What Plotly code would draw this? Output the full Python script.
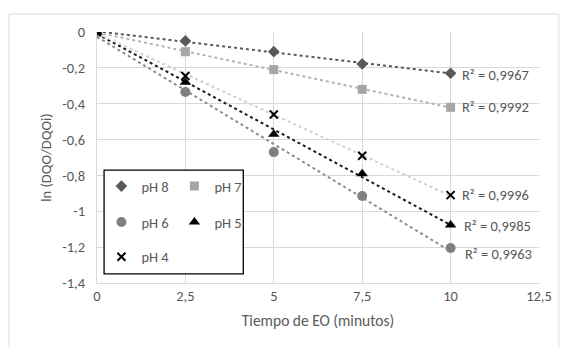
import numpy as np
import plotly.graph_objects as go

tiempo = [0, 2.5, 5, 7.5, 10]
ph8 = [0, -0.05, -0.11, -0.178, -0.23]
ph7 = [0, -0.11, -0.21, -0.32, -0.42]
ph6 = [0, -0.335, -0.67, -0.915, -1.205]
ph5 = [0, -0.28, -0.57, -0.79, -1.077]
ph4 = [0, -0.245, -0.46, -0.69, -0.91]
r2_labels = ["R² = 0,9967", "R² = 0,9992", "R² = 0,9963", "R² = 0,9985", "R² = 0,9996"]

y_ticks = [0, -0.2, -0.4, -0.6, -0.8, -1, -1.2, -1.4]
y_ticktext = ["0", "-0,2", "-0,4", "-0,6", "-0,8", "-1", "-1,2", "-1,4"]
x_ticks = [0, 2.5, 5, 7.5, 10, 12.5]
x_ticktext = ["0", "2,5", "5", "7,5", "10", "12,5"]

FONT = "Calibri, Carlito, Lato, sans-serif"
TXT = "#595959"
FS = 14.5

series = [
    dict(name="pH 8", y=ph8, symbol="diamond", size=9, mcolor="#595959", lcolor="#595959", legend="legend", r2=r2_labels[0], dy=-2, dx=0),
    dict(name="pH 7", y=ph7, symbol="square", size=9, mcolor="#a6a6a6", lcolor="#b3b3b3", legend="legend", r2=r2_labels[1], dy=0, dx=0),
    dict(name="pH 6", y=ph6, symbol="circle", size=10, mcolor="#808080", lcolor="#8c8c8c", legend="legend2", r2=r2_labels[2], dy=-6, dx=3),
    dict(name="pH 5", y=ph5, symbol="triangle-up", size=10, mcolor="#000000", lcolor="#1a1a1a", legend="legend2", r2=r2_labels[3], dy=-1, dx=2),
    dict(name="pH 4", y=ph4, symbol="x-thin", size=8, mcolor="#000000", lcolor="#d0d0d0", legend="legend3", r2=r2_labels[4], dy=0, dx=0),
]

fig = go.Figure()

# trendlines (linear least squares fit over the data range)
for s in series:
    m, b = np.polyfit(tiempo, s["y"], 1)
    xs = [tiempo[0], tiempo[-1]]
    fig.add_trace(go.Scatter(x=xs, y=[m * x + b for x in xs], mode="lines",
                             line=dict(color=s["lcolor"], width=2, dash="dot"),
                             showlegend=False, hoverinfo="skip"))

for s in series:
    marker = dict(symbol=s["symbol"], size=s["size"], color=s["mcolor"])
    if s["symbol"] == "x-thin":
        marker["line"] = dict(color=s["mcolor"], width=2)
    fig.add_trace(go.Scatter(x=tiempo, y=s["y"], mode="markers", name=s["name"],
                             marker=marker, legend=s["legend"]))

for s in series:
    fig.add_annotation(x=tiempo[-1], y=s["y"][-1], text=s["r2"], showarrow=False,
                       xanchor="left", yanchor="middle", xshift=9 + s["dx"], yshift=s["dy"],
                       font=dict(family=FONT, size=FS, color=TXT))

# legend box
fig.add_shape(type="rect", xref="paper", yref="paper", x0=0.016, x1=0.331, y0=0.036, y1=0.450,
              line=dict(color="black", width=1.3), fillcolor="white", layer="above")
# chart outer border
fig.add_shape(type="rect", xref="paper", yref="paper", x0=-0.199, x1=1.045, y0=-0.26, y1=1.072,
              line=dict(color="#d9d9d9", width=1), layer="below")

leg_common = dict(orientation="h", xanchor="left", yanchor="middle", bgcolor="rgba(0,0,0,0)",
                  entrywidth=28, entrywidthmode="pixels", font=dict(family=FONT, size=FS, color=TXT),
                  itemclick=False, itemdoubleclick=False)

fig.update_layout(
    width=564, height=347,
    margin=dict(l=97, r=17, t=32, b=64),
    paper_bgcolor="white", plot_bgcolor="white",
    font=dict(family=FONT, size=FS, color=TXT),
    legend=dict(x=0.01, y=0.386, **leg_common),
    legend2=dict(x=0.01, y=0.243, **leg_common),
    legend3=dict(x=0.01, y=0.104, **leg_common),
    xaxis=dict(range=[0, 12.5], tickvals=x_ticks, ticktext=x_ticktext, showgrid=True,
               gridcolor="#d9d9d9", gridwidth=1, zeroline=False, showline=True, linecolor="#d9d9d9",
               mirror=False, ticks="", tickfont=dict(family=FONT, size=FS, color=TXT),
               title=dict(text="Tiempo de EO (minutos)", font=dict(family=FONT, size=15.5, color=TXT), standoff=10)),
    yaxis=dict(range=[-1.4, 0], tickvals=y_ticks, ticktext=y_ticktext, showgrid=True,
               gridcolor="#d9d9d9", gridwidth=1, zeroline=False, showline=True, linecolor="#d9d9d9",
               ticks="", tickfont=dict(family=FONT, size=FS, color=TXT), ticklabelstandoff=8,
               title=dict(text="ln (DQO/DQOi)", font=dict(family=FONT, size=FS, color=TXT), standoff=7)),
)

fig.write_html("out.html", config={"displayModeBar": False},
               post_script="document.body.style.margin='0';document.body.style.overflow='hidden';")
